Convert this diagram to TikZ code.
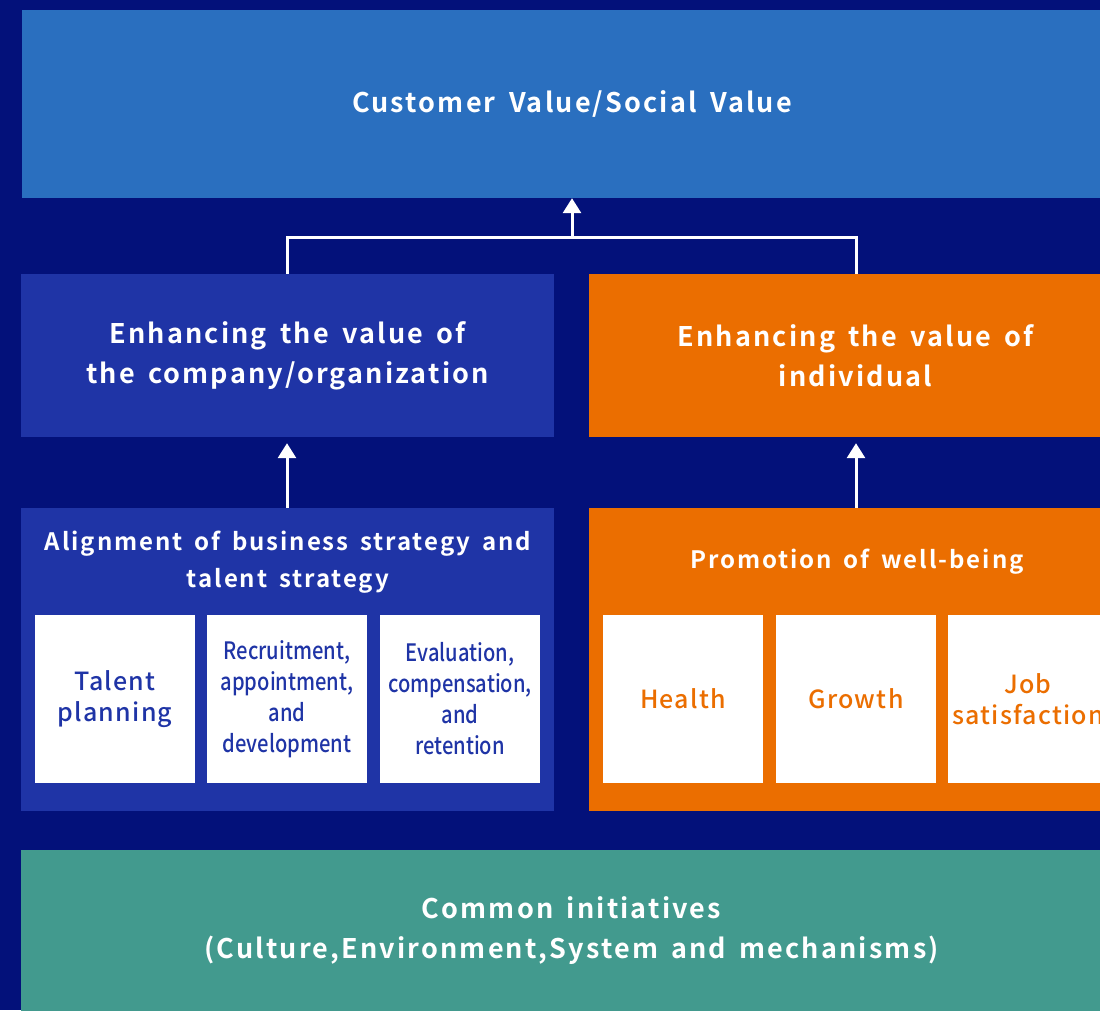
\documentclass[tikz,border=0pt]{standalone}
\usepackage{fontspec}
\setmainfont{Noto Sans CJK JP}[BoldFont={Noto Sans CJK JP Bold}]
\usetikzlibrary{arrows.meta}
\definecolor{navy}{HTML}{03117A}
\definecolor{skyblue}{HTML}{2A6FBF}
\definecolor{midblue}{HTML}{1F34A6}
\definecolor{tangerine}{HTML}{EB6E00}
\definecolor{teal2}{HTML}{429A8E}
\newfontfamily\headfont{Noto Sans CJK JP Bold}[LetterSpace=8,WordSpace=1.6]
\newfontfamily\cardfont{Noto Sans CJK JP Medium}[LetterSpace=5,WordSpace=1.3]
\newfontfamily\narrowfont{Noto Sans CJK JP Medium}[FakeStretch=0.84]
\begin{document}
\begin{tikzpicture}[x=1pt,y=-1pt,
  panel/.style={inner sep=0pt, align=center, text=white, font=\headfont\fontsize{27}{40}\selectfont},
  title/.style={inner sep=0pt, align=center, text=white, font=\headfont\fontsize{24}{37}\selectfont},
  card/.style={fill=white, inner sep=0pt, minimum width=160pt, minimum height=168pt, align=center},
  bluecard/.style={card, text=midblue},
  orangecard/.style={card, text=tangerine, font=\cardfont\fontsize{25}{31}\selectfont},
  uparrow/.style={draw=white, line width=3pt, -{Triangle[width=18pt,length=15pt]}},
  bracket/.style={draw=white, line width=3pt}]
\useasboundingbox (0,0) rectangle (1100,1010);
\fill[navy] (0,0) rectangle (1100,1010);
\begin{scope}
\clip (0,0) rectangle (1100,1010);
% top level
\node[panel, fill=skyblue, minimum width=1100pt, minimum height=188pt] (top) at (572,104) {Customer Value/Social Value};
% value layer
\node[panel, fill=midblue, minimum width=533pt, minimum height=163pt] (org) at (287.5,355.5) {Enhancing the value of\\the company/organization};
\node[panel, fill=tangerine, minimum width=533pt, minimum height=163pt] (ind) at (855.5,355.5) {Enhancing the value of\\individual};
% strategy layer
\node[fill=midblue, inner sep=0pt, minimum width=533pt, minimum height=303pt] (align) at (287.5,659.5) {};
\node[fill=tangerine, inner sep=0pt, minimum width=533pt, minimum height=303pt] (well) at (855.5,659.5) {};
\node[title] (alignt) at (288,562) {Alignment of business strategy and\\talent strategy};
\node[title] (wellt) at (857,562) {Promotion of well-being};
% cards
\node[bluecard, font=\cardfont\fontsize{25}{31}\selectfont] (c1) at (115,699) {Talent\\planning};
\node[bluecard, font=\narrowfont\fontsize{24}{31}\selectfont] (c2) at (287,699) {Recruitment,\\appointment,\\and\\development};
\node[bluecard, font=\narrowfont\fontsize{24}{31}\selectfont] (c3) at (460,699) {Evaluation,\\compensation,\\and\\retention};
\node[orangecard] (c4) at (683,699) {Health};
\node[orangecard] (c5) at (856,699) {Growth};
\node[orangecard] (c6) at (1028,699) {Job\\satisfaction};
% common base
\node[panel, fill=teal2, minimum width=1101pt, minimum height=162pt] (base) at (571.5,931) {Common initiatives\\(Culture,Environment,System and mechanisms)};
% connectors
\coordinate (join) at (572,237);
\draw[bracket] (org.north -| 287,0) |- (join) -| (ind.north -| 856,0);
\draw[uparrow] (join) -- (top.south -| join);
\draw[uparrow] (align.north -| 287,0) -- ([yshift=-6pt]org.south -| 287,0);
\draw[uparrow] (well.north -| 856,0) -- ([yshift=-6pt]ind.south -| 856,0);
\end{scope}
\end{tikzpicture}
\end{document}
